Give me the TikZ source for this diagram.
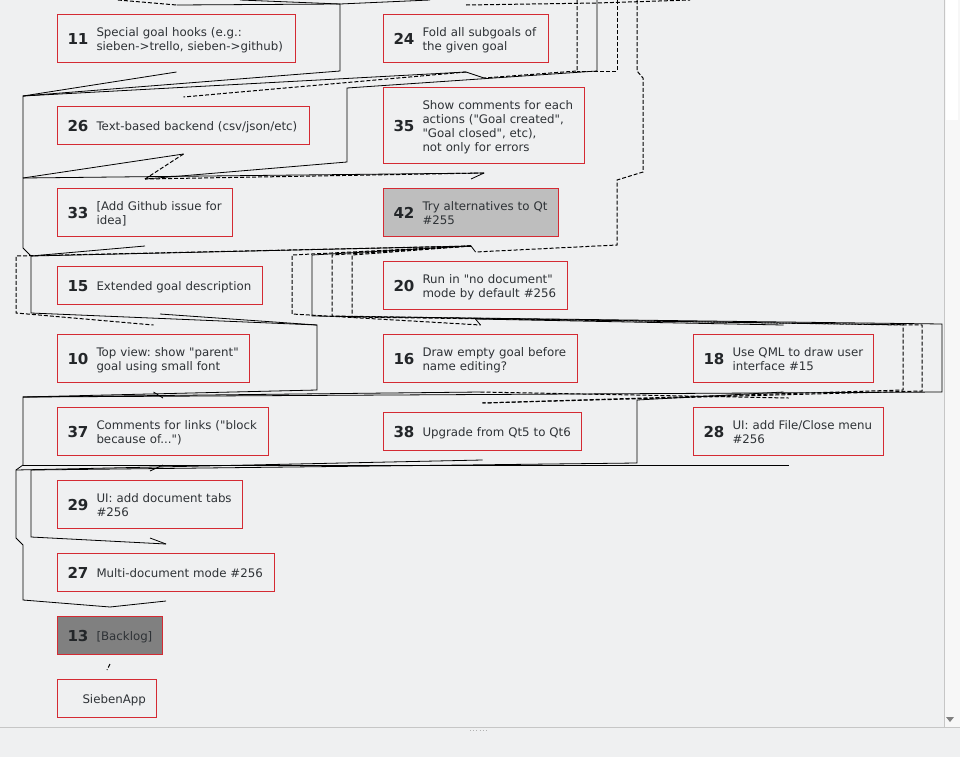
\documentclass[tikz,border=0pt]{standalone}
\usepackage{fontspec}
\setmainfont{DejaVu Sans}[Ligatures=TeXOff]
\frenchspacing

\definecolor{bgc}{HTML}{EFF0F1}
\definecolor{goalred}{HTML}{D42A33}
\definecolor{txtc}{HTML}{2E3236}
\definecolor{numc}{HTML}{232629}
\definecolor{blocked}{HTML}{BEBEBE}
\definecolor{backlog}{HTML}{808080}
\definecolor{scrollc}{HTML}{F7F7F7}

% number and text of a goal, centred on the baseline
\newcommand{\gtext}[2]{\rule[-4pt]{0pt}{8pt}%
    \smash{\raisebox{-4.85pt}{\makebox[21.75pt][l]{\fontsize{11.3}{12}\bfseries\color{numc}#1}}}%
    \smash{\raisebox{-3.75pt}{\begin{tabular}[c]{@{}l@{}}#2\end{tabular}}}}

\begin{document}
\begin{tikzpicture}[
        x=0.75pt, y=-0.75pt,
        goal/.style={
            draw=goalred,
            line width=0.75pt,
            fill=bgc,
            anchor=north west,
            inner xsep=7.5pt,
            inner ysep=2pt,
            align=left,
            text=txtc,
            font=\fontsize{8.85}{10.5}\selectfont
        },
        sub/.style={draw=black, line width=0.6pt},
        dep/.style={draw=black, line width=0.75pt, dash pattern=on 3pt off 1.5pt}
    ]

    % window
    \fill[bgc] (0,0) rectangle (960,757);
    \useasboundingbox (0,0) rectangle (960,757);
    \fill[scrollc] (944,0) rectangle (960,727);
    \fill[white] (946,0) rectangle (958,120);
    \draw[gray!45] (944,0) -- (944,727);
    \draw[gray!45] (0,727) -- (960,727);
    \fill[gray] (946,717) -- (954,717) -- (950,722) -- cycle;
    \draw[gray!60, dotted] (470,730) -- (488,730);

    % goals
    \node[goal, text width=163.5pt, minimum height=36pt] (g11) at (57,14) {\gtext{11}{Special goal hooks (e.g.:\\sieben->trello, sieben->github)}};
    \node[goal, text width=108.75pt, minimum height=36pt] (g24) at (383,14) {\gtext{24}{Fold all subgoals of\\the given goal}};
    \node[goal, text width=174pt, minimum height=28.5pt] (g26) at (57,106) {\gtext{26}{Text-based backend (csv/json/etc)}};
    \node[goal, text width=135.75pt, minimum height=57pt] (g35) at (383,87) {\gtext{35}{Show comments for each\\actions ("Goal created",\\"Goal closed", etc),\\not only for errors}};
    \node[goal, text width=116.25pt, minimum height=36pt] (g33) at (57,188) {\gtext{33}{[Add Github issue for\\idea]}};
    \node[goal, fill=blocked, text width=116.25pt, minimum height=36pt] (g42) at (383,188) {\gtext{42}{Try alternatives to Qt\\\#255}};
    \node[goal, text width=138.75pt, minimum height=28.5pt] (g15) at (57,266) {\gtext{15}{Extended goal description}};
    \node[goal, text width=123pt, minimum height=36pt] (g20) at (383,261) {\gtext{20}{Run in "no document"\\mode by default \#256}};
    \node[goal, text width=129pt, minimum height=36pt] (g10) at (57,334) {\gtext{10}{Top view: show "parent"\\goal using small font}};
    \node[goal, text width=130.5pt, minimum height=36pt] (g16) at (383,334) {\gtext{16}{Draw empty goal before\\name editing?}};
    \node[goal, text width=120pt, minimum height=36pt] (g18) at (693,334) {\gtext{18}{Use QML to draw user\\interface \#15}};
    \node[goal, text width=143.25pt, minimum height=36pt] (g37) at (57,407) {\gtext{37}{Comments for links ("block\\because of...")}};
    \node[goal, text width=133.5pt, minimum height=28.5pt] (g38) at (383,412) {\gtext{38}{Upgrade from Qt5 to Qt6}};
    \node[goal, text width=127.5pt, minimum height=36pt] (g28) at (693,407) {\gtext{28}{UI: add File/Close menu\\\#256}};
    \node[goal, text width=123.75pt, minimum height=36pt] (g29) at (57,480) {\gtext{29}{UI: add document tabs\\\#256}};
    \node[goal, text width=147.75pt, minimum height=28.5pt] (g27) at (57,553) {\gtext{27}{Multi-document mode \#256}};
    \node[goal, fill=backlog, text width=63.75pt, minimum height=28.5pt] (g13) at (57,616) {\gtext{13}{[Backlog]}};
    \node[goal, text width=59.25pt, minimum height=28.5pt] (gapp) at (57,679) {\rule[-4pt]{0pt}{8pt}\hspace*{11.25pt}\smash{\raisebox{-3.9pt}{SiebenApp}}};

    % edge ends, just above and below each goal
    \foreach \g in {11,24,26,35,33,42,15,20,10,16,18,37,38,28,29,27,13,app} {
        \coordinate (i\g) at ([yshift=6.75pt]g\g.north);
        \coordinate (o\g) at ([yshift=-6.75pt]g\g.south);
    }

    % from above the view
    \draw[dep] (118,0) -- (i11);
    \draw[sub] (i11) -- (340,4) -- (430,0);
    \draw[dep] (i24) -- (597,3) -- (690,0);
    \draw[sub] (240,0) -- (340,4) -- (340,71) -- (23,96) -- (23,248) -- (31,256) -- (31,313) -- (317,325) -- (317,390) -- (23,397) -- (23,465) -- (16,470) -- (16,538) -- (23,545) -- (23,600) -- (i13);
    \draw[dep] (577,0) -- (577,71) -- (i35);
    \draw[sub] (597,0) -- (597,71) -- (347,88) -- (347,162) -- (i33);
    \draw[dep] (617,0) -- (617,71) -- (577,71);
    \draw[dep] (637,0) -- (637,71) -- (643,78) -- (643,172) -- (617,180) -- (617,245) -- (i20);

    % row 1 -> row 2
    \draw[sub] (o11) -- (23,96);
    \draw[sub] (o24) -- (23,96);
    \draw[dep] (o24) -- (i26);
    \draw[sub] (o24) -- (i35);

    % row 2 -> row 3
    \draw[sub] (o26) -- (23,178);
    \draw[dep] (o26) -- (i33);
    \draw[sub] (o35) -- (23,178);
    \draw[dep] (o35) -- (i33);
    \draw[sub] (o35) -- (i42);

    % row 3 -> row 4
    \draw[sub] (o33) -- (31,256);
    \draw[sub] (o42) -- (31,256);
    \draw[sub] (o42) -- (i20);
    \draw[dep] (o42) -- (16,256) -- (16,313) -- (i10);
    \draw[dep] (o42) -- (292,255) -- (292,314) -- (i16);
    \draw[sub] (o42) -- (312,255) -- (312,316) -- (942,324) -- (942,392) -- (23,397);
    \draw[dep] (o42) -- (332,255) -- (332,316) -- (903,325) -- (903,390) -- (i38);
    \draw[dep] (o42) -- (352,255) -- (352,317) -- (922,325) -- (922,391) -- (i38);

    % row 4 -> row 5
    \draw[sub] (o15) -- (317,325);
    \draw[sub] (o20) -- (i16);
    \draw[sub] (o20) -- (i18);

    % row 5 -> row 6
    \draw[sub] (o10) -- (i37);
    \draw[sub] (o16) -- (23,397);
    \draw[dep] (o16) -- (i28);
    \draw[sub] (o18) -- (637,400) -- (637,463) -- (31,470) -- (31,537) -- (i27);

    % down to the root
    \draw[sub] (o37) -- (i29);
    \draw[sub] (o38) -- (16,470);
    \draw[sub] (o28) -- (23,465);
    \draw[sub] (o29) -- (i27);
    \draw[sub] (o27) -- (i13);
    \draw[dep] (o13) -- (iapp);

\end{tikzpicture}
\end{document}
